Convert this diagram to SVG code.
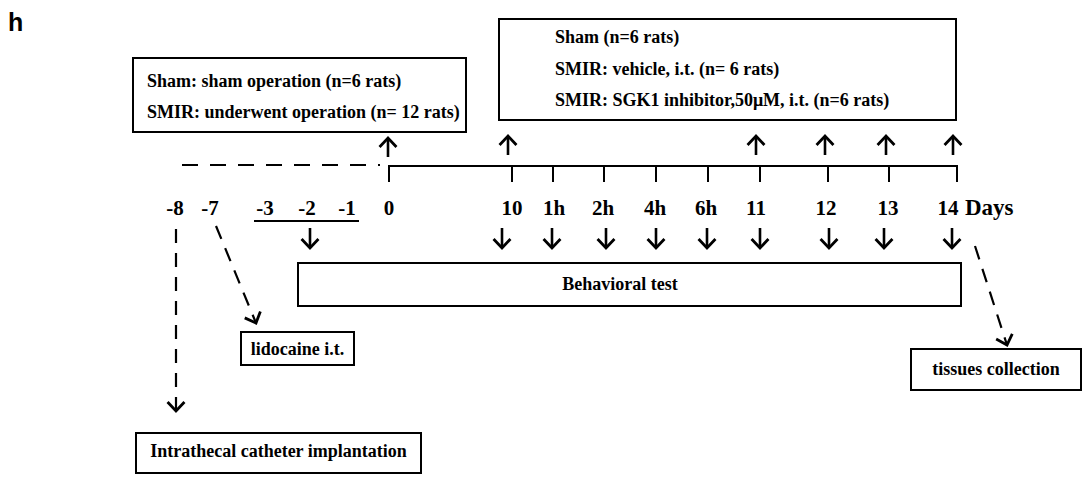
<svg xmlns="http://www.w3.org/2000/svg" width="1086" height="486" viewBox="0 0 1086 486">
  <style>
    .box { fill: #fff; stroke: #000; stroke-width: 2; }
    .t { font-family: "Liberation Serif", "Times New Roman", serif; font-weight: bold; font-size: 18px; fill: #000; }
    .lbl { font-family: "Liberation Serif", "Times New Roman", serif; font-weight: bold; font-size: 21px; fill: #000; text-anchor: middle; }
    .axis { stroke: #000; stroke-width: 2; fill: none; }
    .arr { stroke: #000; stroke-width: 2.6; fill: none; marker-end: url(#chev); }
    .dash { stroke: #000; stroke-width: 2.2; fill: none; stroke-dasharray: 16 12; }
    .dasharr { stroke: #000; stroke-width: 2.2; fill: none; stroke-dasharray: 14 10; marker-end: url(#chev); }
  </style>
  <defs>
    <marker id="chev" markerUnits="userSpaceOnUse" markerWidth="24" markerHeight="24" viewBox="-12 -12 24 24" refX="0" refY="0" orient="auto">
      <path d="M-8,-7.5 L0,0 L-8,7.5" fill="none" stroke="#000" stroke-width="2.8" stroke-linecap="square"/>
    </marker>
  </defs>

  <rect width="1086" height="486" fill="#fff"/>

  <!-- panel letter -->
  <text x="8" y="31" font-family="Liberation Sans, Arial, sans-serif" font-weight="bold" font-size="25">h</text>

  <!-- group boxes -->
  <g id="surgery-groups">
    <rect class="box" x="133" y="58" width="333" height="74"/>
    <text class="t" x="147" y="87">Sham: sham operation (n=6 rats)</text>
    <text class="t" x="147" y="118">SMIR: underwent operation (n= 12 rats)</text>
  </g>
  <g id="treatment-groups">
    <rect class="box" x="499" y="19" width="457" height="101"/>
    <text class="t" x="555" y="43">Sham (n=6 rats)</text>
    <text class="t" x="555" y="75">SMIR: vehicle, i.t. (n= 6 rats)</text>
    <text class="t" x="555" y="106">SMIR: SGK1 inhibitor,50μM, i.t. (n=6 rats)</text>
  </g>
  <g id="behavioral-test">
    <rect class="box" x="298" y="263" width="663" height="43"/>
    <text class="t" x="620" y="290" text-anchor="middle">Behavioral test</text>
  </g>
  <g id="lidocaine">
    <rect class="box" x="241" y="332" width="113" height="33"/>
    <text class="t" x="297.5" y="355" text-anchor="middle">lidocaine i.t.</text>
  </g>
  <g id="catheter">
    <rect class="box" x="136" y="433" width="285" height="40"/>
    <text class="t" x="278.5" y="457" text-anchor="middle">Intrathecal catheter implantation</text>
  </g>
  <g id="tissues">
    <rect class="box" x="911" y="349" width="170" height="41"/>
    <text class="t" x="996" y="375" text-anchor="middle">tissues collection</text>
  </g>

  <!-- timeline axis and tick labels -->
  <g id="timeline">
    <path class="axis" d="M389,182 V166 H957 V182 M512,166 V182 M553,166 V182 M604,166 V182 M656,166 V182 M708,166 V182 M760,166 V182 M828,166 V182 M889,166 V182"/>
    <line x1="254" y1="221" x2="359" y2="221" stroke="#000" stroke-width="2"/>
    <text class="lbl" x="175" y="215">-8</text>
    <text class="lbl" x="210" y="215">-7</text>
    <text class="lbl" x="265" y="215">-3</text>
    <text class="lbl" x="307" y="215">-2</text>
    <text class="lbl" x="347" y="215">-1</text>
    <text class="lbl" x="389" y="215">0</text>
    <text class="lbl" x="512" y="215">10</text>
    <text class="lbl" x="554" y="215">1h</text>
    <text class="lbl" x="603" y="215">2h</text>
    <text class="lbl" x="655" y="215">4h</text>
    <text class="lbl" x="706" y="215">6h</text>
    <text class="lbl" x="756" y="215">11</text>
    <text class="lbl" x="826" y="215">12</text>
    <text class="lbl" x="888" y="215">13</text>
    <text class="lbl" x="948" y="215">14</text>
    <text x="965" y="215" font-family="Liberation Serif, Times New Roman, serif" font-weight="bold" font-size="23">Days</text>
  </g>

  <!-- connectors -->
  <g id="connectors">
    <line class="dash" x1="182" y1="165" x2="380" y2="165"/>
    <!-- up arrows to group boxes -->
    <line class="arr" x1="388" y1="157" x2="388" y2="138"/>
    <line class="arr" x1="508" y1="155" x2="508" y2="136"/>
    <line class="arr" x1="756" y1="155" x2="756" y2="136"/>
    <line class="arr" x1="825" y1="155" x2="825" y2="136"/>
    <line class="arr" x1="886" y1="155" x2="886" y2="136"/>
    <line class="arr" x1="953" y1="155" x2="953" y2="136"/>
    <!-- down arrows to behavioral test -->
    <line class="arr" x1="310" y1="228" x2="310" y2="248"/>
    <line class="arr" x1="502" y1="228" x2="502" y2="248"/>
    <line class="arr" x1="552" y1="228" x2="552" y2="248"/>
    <line class="arr" x1="606" y1="228" x2="606" y2="248"/>
    <line class="arr" x1="656" y1="228" x2="656" y2="248"/>
    <line class="arr" x1="707" y1="228" x2="707" y2="248"/>
    <line class="arr" x1="760" y1="228" x2="760" y2="248"/>
    <line class="arr" x1="829" y1="228" x2="829" y2="248"/>
    <line class="arr" x1="884" y1="228" x2="884" y2="248"/>
    <line class="arr" x1="952" y1="228" x2="952" y2="248"/>
    <!-- dashed leaders -->
    <line class="dasharr" x1="176" y1="229" x2="176" y2="411"/>
    <line class="dasharr" x1="216" y1="226" x2="256" y2="323"/>
    <line class="dasharr" x1="975" y1="246" x2="1007" y2="345"/>
  </g>
</svg>
